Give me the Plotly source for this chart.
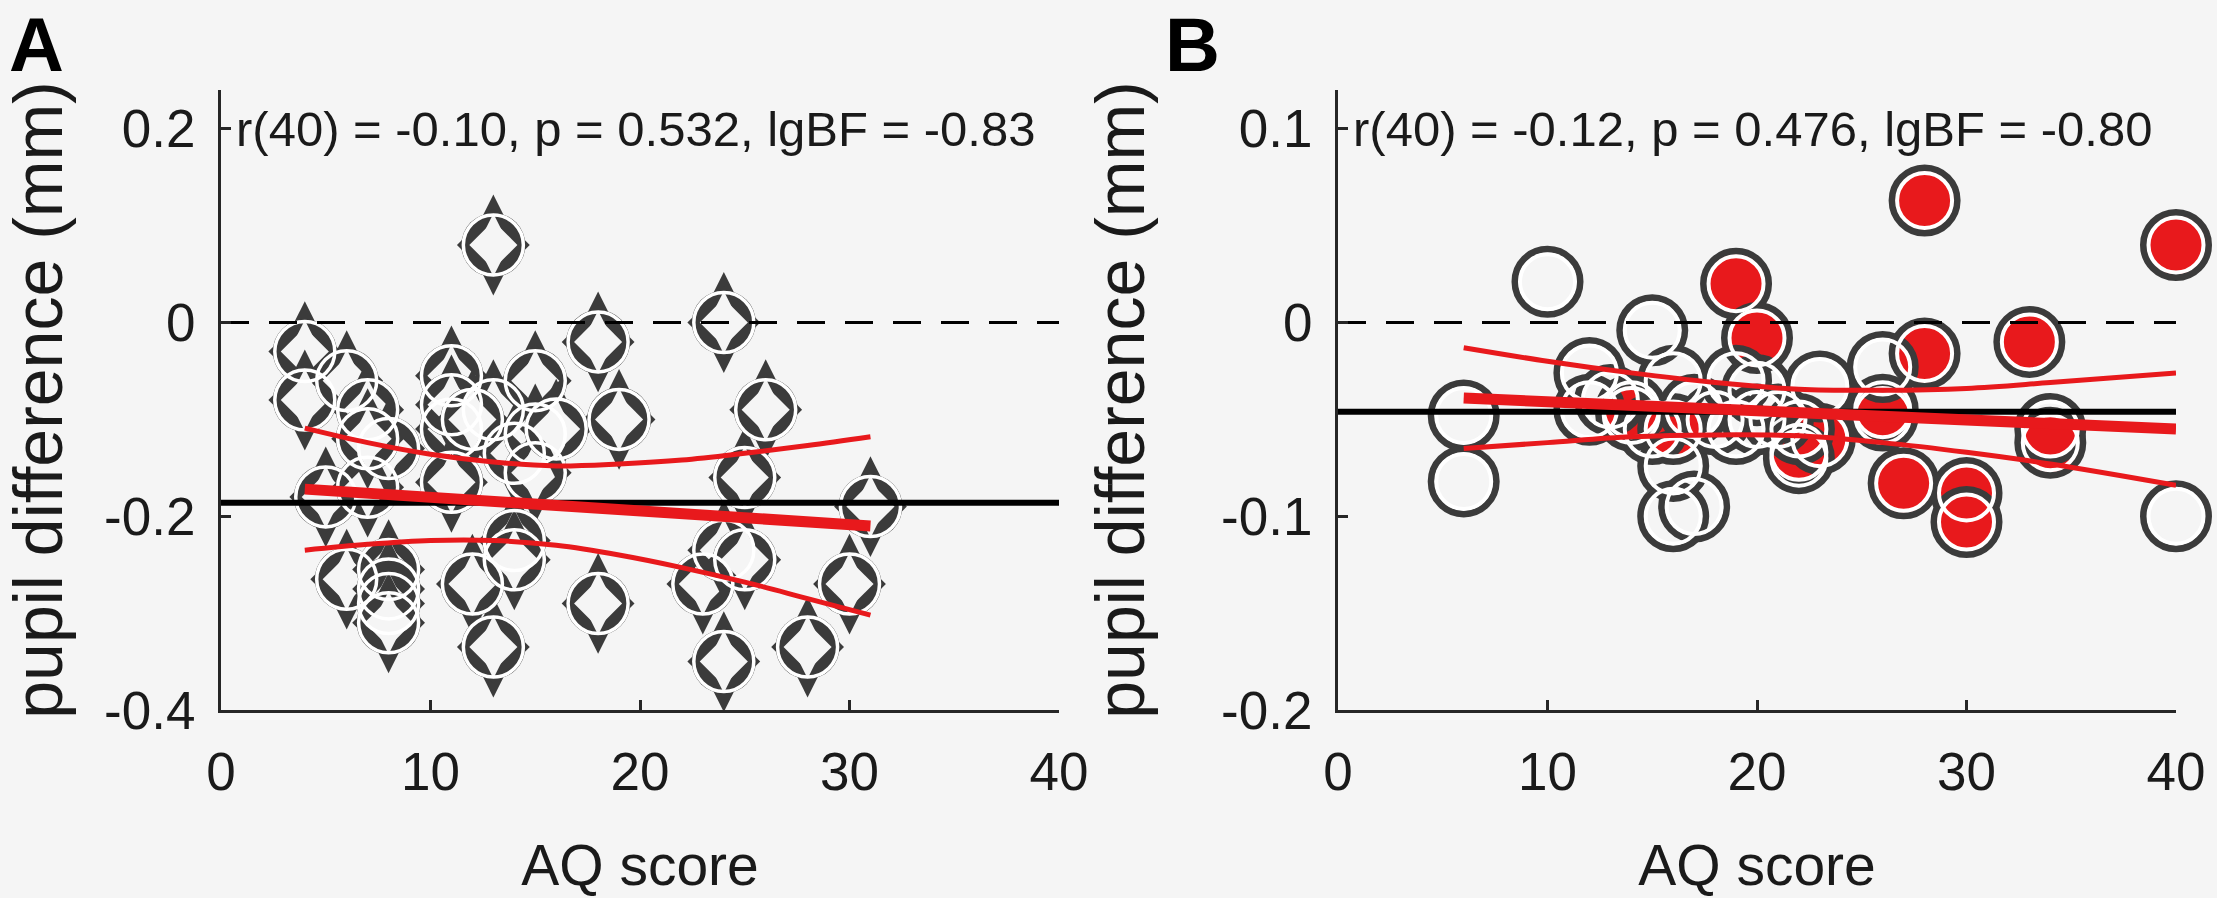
import plotly.graph_objects as go

# ---------------------------------------------------------------------------
# Panel A: AQ score vs pupil difference (mm), diamond markers
# ---------------------------------------------------------------------------
aq_a = [4, 4, 5, 6, 6, 7, 7, 8, 8, 8, 8, 8,
        11, 11, 11, 11, 12,
        13, 13, 13, 14, 14, 14,
        15, 15, 15, 16,
        18, 18, 19,
        23, 24, 24, 24, 25, 25, 26,
        28, 30, 31, 12, 7]
pupil_a = [-0.03, -0.08, -0.18, -0.06, -0.265, -0.09, -0.17, -0.13, -0.255, -0.275, -0.29, -0.31,
           -0.055, -0.11, -0.165, -0.085, -0.27,
           0.08, -0.09, -0.335, -0.135, -0.225, -0.245,
           -0.06, -0.115, -0.155, -0.11,
           -0.02, -0.29, -0.10,
           -0.27, 0.0, -0.235, -0.35, -0.16, -0.245, -0.09,
           -0.335, -0.27, -0.19, -0.10, -0.12]
mean_a = -0.186
fit_x_a = [4, 7, 10, 13, 16, 19, 22, 25, 28, 31]
fit_a = [-0.172, -0.176, -0.180, -0.185, -0.189, -0.193, -0.197, -0.202, -0.206, -0.210]
ci_hi_a = [-0.109, -0.124, -0.136, -0.144, -0.148, -0.146, -0.142, -0.135, -0.127, -0.118]
ci_lo_a = [-0.235, -0.229, -0.225, -0.225, -0.230, -0.240, -0.253, -0.268, -0.285, -0.302]
stats_a = "r(40) = -0.10, p = 0.532, lgBF = -0.83"
yticks_a = [-0.4, -0.2, 0, 0.2]
ytext_a = ["-0.4", "-0.2", "0", "0.2"]

# ---------------------------------------------------------------------------
# Panel B: AQ score vs pupil difference (mm), circles (red = filled)
# ---------------------------------------------------------------------------
aq_b_red = [28, 40, 19, 20, 33, 28, 26, 34, 27, 30, 30, 22, 23, 14, 16]
pupil_b_red = [0.063, 0.04, 0.02, -0.008, -0.01, -0.016, -0.048, -0.062, -0.083, -0.088, -0.103,
               -0.067, -0.06, -0.048, -0.055]
aq_b_open = [10, 15, 6, 6, 12, 12, 13, 14, 15, 16, 16, 17, 16, 18, 17, 19, 20, 20, 21,
             22, 22, 23, 26, 26, 34, 40, 19]
pupil_b_open = [0.021, -0.004, -0.048, -0.082, -0.026, -0.045, -0.04, -0.045, -0.055, -0.074,
                -0.1, -0.095, -0.03, -0.05, -0.045, -0.03, -0.05, -0.035, -0.05,
                -0.07, -0.055, -0.033, -0.023, -0.045, -0.055, -0.1, -0.055]
mean_b = -0.046
fit_x_b = [6, 10, 14, 18, 22, 26, 30, 34, 40]
fit_b = [-0.039, -0.041, -0.043, -0.045, -0.047, -0.048, -0.050, -0.052, -0.055]
ci_hi_b = [-0.013, -0.020, -0.026, -0.031, -0.0345, -0.035, -0.034, -0.031, -0.026]
ci_lo_b = [-0.065, -0.062, -0.059, -0.058, -0.0585, -0.062, -0.067, -0.073, -0.084]
stats_b = "r(40) = -0.12, p = 0.476, lgBF = -0.80"
yticks_b = [-0.2, -0.1, 0, 0.1]
ytext_b = ["-0.2", "-0.1", "0", "0.1"]

xticks = [0, 10, 20, 30, 40]

BG = "#f5f5f5"
DARK = "#3b3b3b"
RED = "#e8191c"
AXIS = "#262626"
TXT = "#1a1a1a"
FONT = "Liberation Sans, Arial, sans-serif"

fig = go.Figure()

# panel A markers: each point = dark circle + tall diamond + side tips + hollow centre
sym_cycle = ["circle", "diamond-tall", "diamond", "diamond", "diamond-tall"]
size_cycle = [64, 72, 56, 37, 45]
col_cycle = [DARK, DARK, DARK, BG, BG]
fig.add_trace(go.Scatter(
    x=[v for v in aq_a for _ in sym_cycle],
    y=[v for v in pupil_a for _ in sym_cycle],
    mode="markers", xaxis="x", yaxis="y", cliponaxis=False, hoverinfo="skip",
    marker=dict(symbol=sym_cycle * len(aq_a), size=size_cycle * len(aq_a),
                color=col_cycle * len(aq_a), opacity=1, line=dict(width=0))))
fig.add_trace(go.Scatter(
    x=aq_a, y=pupil_a, mode="markers", xaxis="x", yaxis="y", cliponaxis=False,
    marker=dict(symbol="circle-open", size=60, color="white", opacity=1, line=dict(width=3.5))))

# panel B markers
fig.add_trace(go.Scatter(
    x=aq_b_red, y=pupil_b_red, mode="markers", xaxis="x2", yaxis="y2", cliponaxis=False,
    marker=dict(symbol="circle", size=65, color=RED, opacity=1, line=dict(color=DARK, width=7))))
fig.add_trace(go.Scatter(
    x=aq_b_open, y=pupil_b_open, mode="markers", xaxis="x2", yaxis="y2", cliponaxis=False,
    marker=dict(symbol="circle-open", size=65, color=DARK, opacity=1, line=dict(width=7))))
fig.add_trace(go.Scatter(
    x=aq_b_red + aq_b_open, y=pupil_b_red + pupil_b_open, mode="markers",
    xaxis="x2", yaxis="y2", cliponaxis=False,
    marker=dict(symbol="circle-open", size=55, color="white", opacity=1, line=dict(width=4))))

# reference lines, mean line, regression fit and confidence band
for xa, ya, mean, fx, fy, hi, lo in [("x", "y", mean_a, fit_x_a, fit_a, ci_hi_a, ci_lo_a),
                                     ("x2", "y2", mean_b, fit_x_b, fit_b, ci_hi_b, ci_lo_b)]:
    fig.add_trace(go.Scatter(x=[xticks[0], xticks[-1]], y=[0, 0], mode="lines", xaxis=xa, yaxis=ya,
                             line=dict(color="black", width=3, dash="28px,20px")))
    fig.add_trace(go.Scatter(x=[xticks[0], xticks[-1]], y=[mean, mean], mode="lines", xaxis=xa, yaxis=ya,
                             line=dict(color="black", width=6)))
    for band in (hi, lo):
        fig.add_trace(go.Scatter(x=fx, y=band, mode="lines", xaxis=xa, yaxis=ya,
                                 line=dict(color=RED, width=5, shape="spline")))
    fig.add_trace(go.Scatter(x=fx, y=fy, mode="lines", xaxis=xa, yaxis=ya,
                             line=dict(color=RED, width=11)))

axis_common = dict(showline=True, linecolor=AXIS, linewidth=3, mirror=False,
                   ticks="inside", ticklen=10, tickwidth=3, tickcolor=AXIS,
                   showgrid=False, zeroline=False, automargin=False,
                   tickfont=dict(family=FONT, size=53, color=TXT))

xtitle = dict(text="AQ score", standoff=46, font=dict(family=FONT, size=57, color=TXT))
ytitle = dict(text="pupil difference (mm)", standoff=55, font=dict(family=FONT, size=68, color=TXT))

fig.update_layout(
    width=2217, height=898,
    margin=dict(l=0, r=0, t=0, b=0, autoexpand=False),
    paper_bgcolor=BG, plot_bgcolor=BG,
    showlegend=False,
    xaxis=dict(axis_common, domain=[221 / 2217, 1059 / 2217], range=[0, 40],
               tickvals=xticks, ticklabelstandoff=13, title=xtitle, anchor="y"),
    yaxis=dict(axis_common, domain=[188 / 898, 808 / 898], range=[-0.4, 0.24],
               tickvals=yticks_a, ticktext=ytext_a, ticklabelstandoff=12,
               title=ytitle, anchor="x"),
    xaxis2=dict(axis_common, domain=[1338 / 2217, 2176 / 2217], range=[0, 40],
                tickvals=xticks, ticklabelstandoff=13, title=xtitle, anchor="y2"),
    yaxis2=dict(axis_common, domain=[188 / 898, 808 / 898], range=[-0.2, 0.12],
                tickvals=yticks_b, ticktext=ytext_b, ticklabelstandoff=12,
                title=ytitle, anchor="x2"),
)

fig.add_annotation(text=stats_a, xref="x", yref="y", x=0.6, y=0.2,
                   xanchor="left", yanchor="middle", showarrow=False,
                   font=dict(family=FONT, size=49, color=TXT))
fig.add_annotation(text=stats_b, xref="x2", yref="y2", x=0.6, y=0.1,
                   xanchor="left", yanchor="middle", showarrow=False,
                   font=dict(family=FONT, size=49, color=TXT))

for letter, px in [("A", 36), ("B", 1192)]:
    fig.add_annotation(text="<b>%s</b>" % letter, xref="paper", yref="paper",
                       x=px / 2217, y=1, xanchor="center", yanchor="top",
                       showarrow=False, font=dict(family=FONT, size=76, color="black"))

# the page's default body margin would shift the figure by 8px and add scrollbars
fig.write_html("out.html", config={"displayModeBar": False},
               post_script="document.body.style.margin='0px';document.body.style.overflow='hidden';")
